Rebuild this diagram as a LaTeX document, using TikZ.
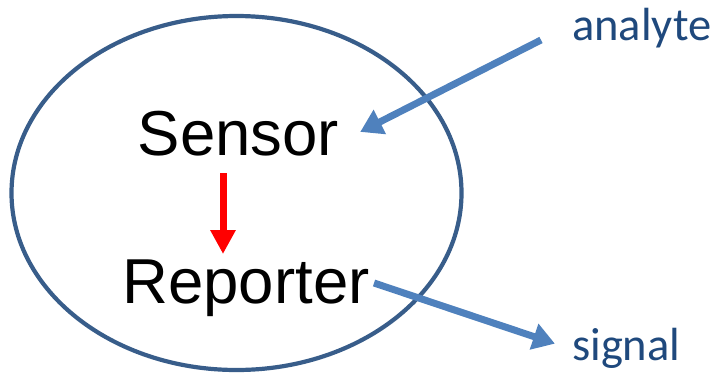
\documentclass[tikz,border=0pt]{standalone}
\usepackage{fontspec}
\setmainfont{Liberation Sans}
\newfontfamily\labelfont{Carlito}
\usetikzlibrary{arrows.meta}
\definecolor{ringblue}{HTML}{385D8A}
\definecolor{flowblue}{HTML}{4F81BD}
\definecolor{labelblue}{HTML}{1F497D}
\tikzset{
  big/.style={font=\fontsize{63.5}{63.5}\selectfont, text=black, inner sep=0pt},
  side/.style={font=\labelfont\fontsize{46.5}{46.5}\selectfont, text=labelblue, inner sep=0pt},
  flow/.style={draw=flowblue, line width=7pt, -{Triangle[length=22pt,width=26pt]}},
  link/.style={draw=red, line width=7pt, -{Triangle[length=24pt,width=24pt]}}
}
\begin{document}
\begin{tikzpicture}[x=1pt,y=-1pt]
\useasboundingbox (0,0) rectangle (719,381);
\draw[ringblue, line width=4.2pt] (236.5,193) ellipse [x radius=225, y radius=177];
\node[big, anchor=base] (sensor) at (238.5,155) {Sensor};
\node[big, anchor=base] (reporter) at (246,303) {Reporter};
\node[side, anchor=base west] (analyte) at (572,40) {analyte};
\node[side, anchor=base west] (signal) at (572,360) {signal};
\coordinate (ain) at (541,40);
\coordinate (atip) at (362,131);
\coordinate (sout) at (374,283);
\coordinate (stip) at (553,343);
\coordinate (rtop) at (223,173);
\coordinate (rtip) at (223,252);
\draw[flow, shorten >=-2pt] (ain) -- (atip);
\draw[flow, shorten >=-2pt] (sout) -- (stip);
\draw[link, shorten >=-2pt] (rtop) -- (rtip);
\end{tikzpicture}
\end{document}
